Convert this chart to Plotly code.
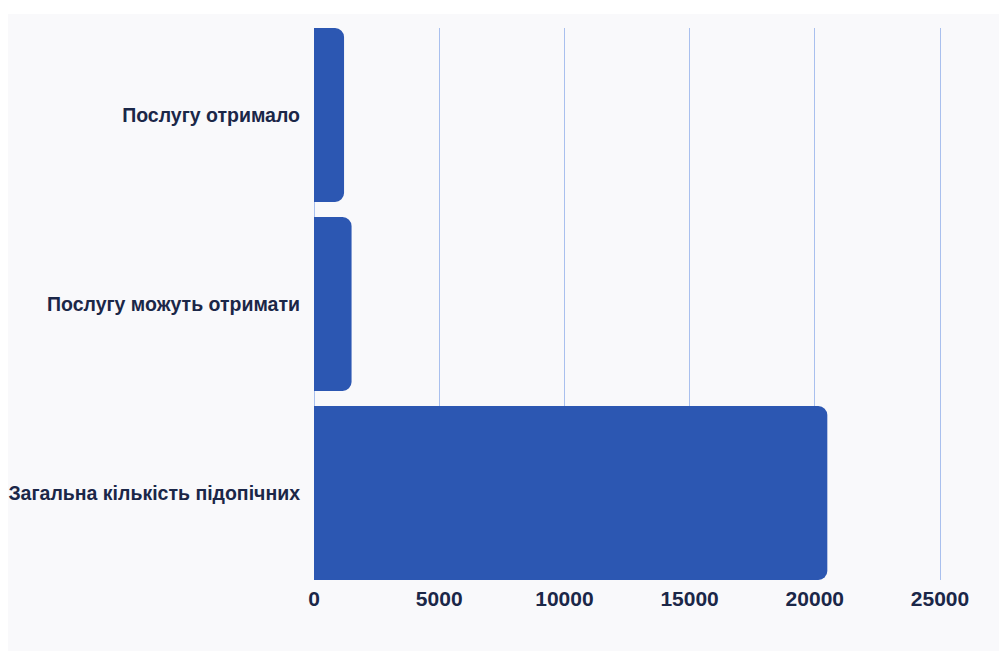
import plotly.graph_objects as go

categories = ["Послугу отримало", "Послугу можуть отримати", "Загальна кількість підопічних"]
values = [1200, 1500, 20500]
x_ticks = [0, 5000, 10000, 15000, 20000, 25000]

BAR = "#2c57b2"
TXT = "#1b2748"
GRID = "#a9c0ee"
BG = "#f9f9fb"
GAP = 0.08

fig = go.Figure(go.Bar(
    x=values, y=categories, orientation="h",
    marker=dict(color=BAR, line=dict(width=0)),
    hoverinfo="x+y",
))

fig.update_layout(
    width=999, height=651,
    margin=dict(l=313, r=57, t=28, b=71, autoexpand=False),
    paper_bgcolor=BG, plot_bgcolor=BG,
    bargap=GAP,
    barcornerradius=9,
    showlegend=False,
    font=dict(family="Liberation Sans, Arial, sans-serif", color=TXT),
    shapes=[
        dict(type="rect", xref="paper", yref="paper", x0=-1, x1=2, y0=1 + 14 / 552, y1=1.2,
             fillcolor="white", line=dict(width=0), layer="below"),
        dict(type="rect", xref="paper", yref="paper", x0=-1, x1=-305 / 629, y0=-1, y1=2,
             fillcolor="white", line=dict(width=0), layer="below"),
    ],
)
fig.update_xaxes(
    range=[-40, 25080], tickvals=x_ticks, ticktext=[str(v) for v in x_ticks],
    showgrid=True, gridcolor=GRID, gridwidth=1,
    zeroline=True, zerolinecolor=GRID, zerolinewidth=1,
    showline=False, ticks="", ticklabelstandoff=4, automargin=False,
    tickfont=dict(size=21, color=TXT, weight="bold"),
    fixedrange=True,
)
fig.update_yaxes(
    range=[len(categories) - 0.5 - GAP / 2, -0.5 + GAP / 2],
    showgrid=False, zeroline=False, showline=False,
    ticks="", ticklabelstandoff=12, automargin=False,
    tickfont=dict(size=19.5, color=TXT, weight="bold"),
    fixedrange=True,
)

fig.write_html("out.html", config={"displayModeBar": False})
